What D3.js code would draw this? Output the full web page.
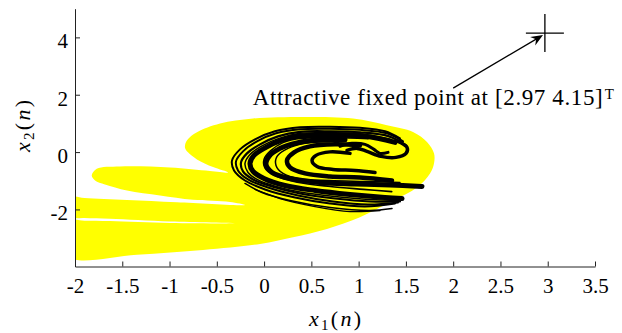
<!DOCTYPE html>
<meta charset="utf-8">
<script src="https://d3js.org/d3.v7.min.js"></script>
<style>
  body { margin: 0; background: #fff; }
</style>
<div id="chart"></div>
<script>
    const W = 622, H = 333;
    const margin = {top: 9, right: 27, bottom: 67, left: 75};
    const serif = "'Liberation Serif', 'Times New Roman', serif";

    const xTicks = [-2, -1.5, -1, -0.5, 0, 0.5, 1, 1.5, 2, 2.5, 3, 3.5];
    const yTicks = [-2, 0, 2, 4];

    // fixed point and annotation
    const fixedPoint = [2.97, 4.15];
    const arrowTail = [2.0, 2.23];
    const arrowTip = [2.95, 4.08];
    const noteAt = [-0.12, 1.63];
    const noteText = "Attractive fixed point at [2.97 4.15]";

    // basin of attraction (yellow): one outline, the white slits are its hairpins
    const basin = [[-0.837,0.164],[-0.815,0.409],[-0.710,0.689],[-0.466,0.993],[-0.117,1.168],
        [0.412,1.224],[0.940,1.168],[1.300,0.934],[1.575,0.699],[1.723,0.350],[1.797,-0.045],
        [1.797,-0.395],[1.755,-0.745],[1.617,-1.234],[1.363,-1.689],[1.014,-2.273],[0.665,-2.678],
        [0.306,-2.972],[-0.043,-3.203],[-0.646,-3.413],[-1.344,-3.577],[-2.05,-3.68],
        [-2.1,-3.0],[-2.05,-2.39],[-1.9,-2.395],[-1.630,-2.406],[-0.995,-2.476],[-0.287,-2.486],
        [-0.995,-2.423],[-1.630,-2.329],[-1.9,-2.30],[-2.05,-2.27],
        [-2.1,-1.9],[-2.05,-1.57],[-1.9,-1.60],[-1.450,-1.671],[-0.921,-1.748],[-0.202,-1.846],
        [-0.361,-1.741],[-0.752,-1.664],[-1.101,-1.514],[-1.450,-1.339],[-1.683,-1.129],
        [-1.788,-0.990],[-1.823,-0.815],[-1.770,-0.580],[-1.524,-0.500],[-0.995,-0.535],
        [-0.572,-0.657],[-0.382,-0.710],
        [-0.540,-0.524],[-0.710,-0.255],[-0.805,-0.010]];

    // chaotic attractor (black), strands
    const s1 = [[1.437,0.479],[1.279,0.724],[1.014,0.846],[0.697,0.881],[0.380,0.864],[0.115,0.724],
        [-0.096,0.444],[-0.255,0.094],[-0.339,-0.290],[-0.318,-0.640],[-0.202,-0.990],[0.010,-1.304],
        [0.327,-1.584],[0.697,-1.794],[1.067,-1.899],[1.385,-1.794]];
    const s2 = [[1.469,0.374],[1.300,0.654],[1.014,0.776],[0.697,0.811],[0.380,0.794],[0.126,0.654],
        [-0.075,0.374],[-0.223,0.024],[-0.297,-0.325],[-0.276,-0.640],[-0.170,-0.955],[0.041,-1.234],
        [0.359,-1.514],[0.729,-1.724],[1.099,-1.829],[1.416,-1.759]];
    const s3 = [[1.501,0.234],[1.321,0.549],[1.014,0.689],[0.697,0.724],[0.380,0.706],[0.147,0.549],
        [-0.043,0.269],[-0.181,-0.045],[-0.244,-0.360],[-0.223,-0.675],[-0.117,-0.955],[0.084,-1.199],
        [0.380,-1.444],[0.750,-1.619],[1.120,-1.724],[1.437,-1.724]];
    const s3b = [[1.332,0.444],[1.014,0.636],[0.697,0.671],[0.380,0.654],[0.158,0.479],[-0.022,0.217],
        [-0.149,-0.080],[-0.202,-0.395],[-0.170,-0.710],[-0.064,-0.972],[0.126,-1.199],[0.380,-1.392],
        [0.750,-1.549],[1.120,-1.654],[1.437,-1.689]];
    const s4 = [[1.385,0.339],[1.067,0.549],[0.697,0.584],[0.380,0.566],[0.179,0.409],[0.020,0.164],
        [-0.107,-0.115],[-0.149,-0.395],[-0.117,-0.675],[-0.001,-0.920],[0.221,-1.164],[0.539,-1.339],
        [0.909,-1.479],[1.279,-1.584],[1.459,-1.619]];
    const s4b = [[1.100,0.470],[0.750,0.500],[0.400,0.480],[0.200,0.330],[0.070,0.050],[0.000,-0.250],
        [0.010,-0.560],[0.120,-0.830],[0.350,-1.050],[0.700,-1.200],[1.050,-1.300],[1.350,-1.380]];
    const s5 = [[0.856,0.427],[0.591,0.427],[0.348,0.322],[0.168,0.129],[0.052,-0.150],[0.020,-0.430],
        [0.084,-0.710],[0.274,-0.920],[0.591,-1.059],[0.962,-1.112],[1.332,-1.147],[1.670,-1.199]];
    const s5b = [[0.697,0.357],[0.433,0.304],[0.253,0.129],[0.137,-0.150],[0.126,-0.465],[0.200,-0.745],
        [0.380,-0.937],[0.697,-0.990],[1.067,-1.024],[1.437,-1.059]];
    const s6 = [[1.014,0.234],[0.750,0.269],[0.486,0.199],[0.317,-0.010],[0.242,-0.290],[0.274,-0.535],
        [0.433,-0.745],[0.697,-0.850],[1.014,-0.885],[1.353,-0.990]];
    const s7 = [[0.909,-0.045],[0.697,0.007],[0.549,-0.115],[0.507,-0.290],[0.560,-0.500],[0.729,-0.605],
        [0.962,-0.640],[1.173,-0.710]];
    const s8 = [[1.416,0.374],[1.512,0.164],[1.501,-0.045],[1.395,-0.185],[1.237,-0.150],[1.088,0.024],
        [0.983,0.129],[0.877,0.059]];
    const s9 = [[-0.202,-1.094],[-0.022,-1.409],[0.274,-1.689],[0.697,-1.934],[1.120,-2.038],[1.353,-1.969]];
    const s10 = [[-0.096,-1.304],[0.168,-1.619],[0.539,-1.899],[0.909,-2.073],[1.226,-2.038]];
    const s11 = [[0.803,0.199],[0.930,0.304],[1.067,0.269],[1.162,0.094],[1.226,-0.045],[1.311,-0.010]];

    const strands = [
        {pts: s1, w: 2}, {pts: s2, w: 2}, {pts: s3, w: 2.2}, {pts: s3b, w: 1.5},
        {pts: s9, w: 1.5}, {pts: s10, w: 1.3},
        {pts: s4, w: 5}, {pts: s4b, w: 1.6}, {pts: s5, w: 5}, {pts: s5b, w: 1.5},
        {pts: s6, w: 4.5}, {pts: s7, w: 3.5}, {pts: s8, w: 3.5}, {pts: s11, w: 3}
    ];

    const svg = d3.select("#chart").append("svg")
        .attr("width", W).attr("height", H)
        .style("display", "block")
        .style("font-family", serif);

    const x = d3.scaleLinear().domain([-2, 3.5]).range([margin.left, W - margin.right]);
    const y = d3.scaleLinear().domain([-3.99, 5]).range([H - margin.bottom + 0.5, margin.top - 0.3]);

    svg.append("clipPath").attr("id", "plotclip")
        .append("rect")
        .attr("x", x(-2)).attr("y", y(5))
        .attr("width", x(3.5) - x(-2)).attr("height", y(-3.99) - y(5));

    const plot = svg.append("g").attr("clip-path", "url(#plotclip)");

    const areaLine = d3.line().x(d => x(d[0])).y(d => y(d[1]))
        .curve(d3.curveCatmullRomClosed.alpha(0.5));
    plot.append("path")
        .attr("d", areaLine(basin))
        .attr("fill", "#ffff00");

    const strandLine = d3.line().x(d => x(d[0])).y(d => y(d[1]))
        .curve(d3.curveCatmullRom.alpha(0.5));
    plot.selectAll("path.strand").data(strands).join("path")
        .attr("class", "strand")
        .attr("d", d => strandLine(d.pts))
        .attr("fill", "none")
        .attr("stroke", "#000")
        .attr("stroke-width", d => d.w)
        .attr("stroke-linecap", "round");

    // "+" marker at fixed point
    const fx = x(fixedPoint[0]), fy = y(fixedPoint[1]);
    svg.append("path")
        .attr("d", `M${fx - 19},${fy}H${fx + 19}M${fx},${fy - 19}V${fy + 19}`)
        .attr("stroke", "#000").attr("stroke-width", 1.3).attr("fill", "none");

    // arrow
    const ax0 = x(arrowTail[0]), ay0 = y(arrowTail[1]);
    const ax1 = x(arrowTip[0]), ay1 = y(arrowTip[1]);
    const ang = Math.atan2(ay1 - ay0, ax1 - ax0);
    svg.append("line")
        .attr("x1", ax0).attr("y1", ay0)
        .attr("x2", ax1 - 6 * Math.cos(ang)).attr("y2", ay1 - 6 * Math.sin(ang))
        .attr("stroke", "#000").attr("stroke-width", 1.3);
    svg.append("path")
        .attr("d", "M0,0L-12,-5L-8,0L-12,5Z")
        .attr("transform", `translate(${ax1},${ay1}) rotate(${ang * 180 / Math.PI})`)
        .attr("fill", "#000");

    const nx = x(noteAt[0]), ny = y(noteAt[1]);
    svg.append("text")
        .attr("x", nx).attr("y", ny)
        .attr("textLength", 350).attr("lengthAdjust", "spacing")
        .style("font-size", "23px")
        .text(noteText);
    svg.append("text")
        .attr("x", nx + 352).attr("y", ny - 6)
        .style("font-size", "15px")
        .text("T");

    // axes
    const xAxis = svg.append("g")
        .attr("transform", `translate(0,${y(-3.99)})`)
        .call(d3.axisBottom(x).tickValues(xTicks).tickFormat(d => String(d))
            .tickSizeInner(-5).tickSizeOuter(0).tickPadding(12));
    const yAxis = svg.append("g")
        .attr("transform", `translate(${x(-2)},0)`)
        .call(d3.axisLeft(y).tickValues(yTicks).tickFormat(d => String(d))
            .tickSizeInner(-5).tickSizeOuter(0).tickPadding(7));
    [xAxis, yAxis].forEach(g => {
        g.attr("font-family", null).attr("font-size", null);
        g.selectAll("path.domain").attr("stroke", "#222");
        g.selectAll(".tick line").attr("stroke", "#222");
        g.selectAll("text")
            .style("font-family", serif)
            .style("font-size", "21px").attr("fill", "#000");
    });
    yAxis.selectAll("text").attr("dy", "0.5em");

    // axis titles
    const xt = svg.append("text")
        .attr("x", x(0.75)).attr("y", 326)
        .attr("text-anchor", "middle")
        .attr("textLength", 52)
        .style("font-size", "22px");
    xt.append("tspan").style("font-style", "italic").text("x");
    xt.append("tspan").attr("dy", 4).style("font-size", "15px").text("1");
    xt.append("tspan").attr("dy", -4).text("(");
    xt.append("tspan").style("font-style", "italic").text("n");
    xt.append("tspan").text(")");

    const yt = svg.append("text")
        .attr("transform", `translate(30,126) rotate(-90)`)
        .attr("text-anchor", "middle")
        .attr("textLength", 52)
        .style("font-size", "22px");
    yt.append("tspan").style("font-style", "italic").text("x");
    yt.append("tspan").attr("dy", 4).style("font-size", "15px").text("2");
    yt.append("tspan").attr("dy", -4).text("(");
    yt.append("tspan").style("font-style", "italic").text("n");
    yt.append("tspan").text(")");
</script>
